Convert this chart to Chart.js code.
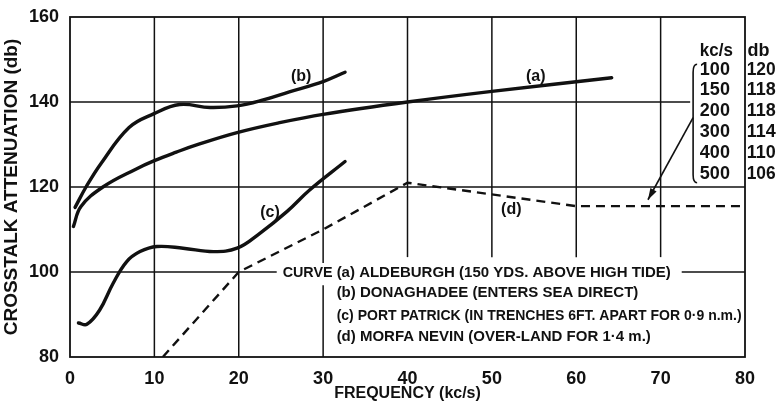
<!DOCTYPE html>
<html>
<head>
<meta charset="utf-8">
<script src="https://cdn.jsdelivr.net/npm/chart.js@4/dist/chart.umd.min.js"></script>
<style>body{margin:0;background:#fff}</style>
</head>
<body>
<canvas id="chartCanvas" width="777" height="407"></canvas>
<script>
// curve (a) Aldeburgh
var freqA = [0.4, 1.3, 3.9, 7.8, 10, 12.6, 15, 19.8, 25, 30, 40, 50, 64.2]
var attA = [110.7, 115.4, 120, 124.2, 126.2, 128.2, 129.9, 132.8, 135.2, 137.1, 140, 142.5, 145.7]
// curve (b) Donaghadee
var freqB = [0.6, 1.9, 3.7, 7, 9.9, 13, 16.6, 19.8, 22.9, 26, 30, 32.6]
var attB = [115.2, 120, 125.6, 134, 137.2, 139.4, 138.7, 139.1, 140.5, 142.4, 144.8, 147]
// curve (c) Port Patrick
var freqC = [1, 2, 3.5, 5.1, 6.7, 8.3, 10.3, 13.4, 17, 19.8, 22.5, 25.7, 28.4, 32.6]
var attC = [88, 87.7, 91, 97.3, 102.4, 104.8, 106, 105.6, 104.8, 105.6, 109.1, 114.2, 119.3, 126]
// curve (d) Morfa Nevin (dashed)
var freqD = [11, 20, 30, 40, 60, 80]
var attD = [80, 100, 110, 121, 115.5, 115.5]

var xTicks = [0, 10, 20, 30, 40, 50, 60, 70, 80]
var yTicks = [80, 100, 120, 140, 160]

var curveNames = ['(a)', '(b)', '(c)', '(d)']
var legendLines = [
  '(a) ALDEBURGH (150 YDS. ABOVE HIGH TIDE)',
  '(b) DONAGHADEE (ENTERS SEA DIRECT)',
  '(c) PORT PATRICK (IN TRENCHES 6FT. APART FOR 0·9 n.m.)',
  '(d) MORFA NEVIN (OVER-LAND FOR 1·4 m.)'
]
var tableFreq = ['100', '150', '200', '300', '400', '500']
var tableDb = ['120', '118', '118', '114', '110', '106']

var INK = '#111'
var FONT = '"Liberation Sans", Arial, sans-serif'

function pts(xs, ys) {
  return xs.map((x, i) => ({ x: x, y: ys[i] }))
}

function P(chart, x, y) {
  return [chart.scales.x.getPixelForValue(x), chart.scales.y.getPixelForValue(y)]
}

function seg(ctx, chart, x1, y1, x2, y2) {
  var a = P(chart, x1, y1), b = P(chart, x2, y2)
  ctx.beginPath()
  ctx.moveTo(a[0], a[1])
  ctx.lineTo(b[0], b[1])
  ctx.stroke()
}

// grid pieces, broken where the old drawing leaves room for lettering
var H_GRID = [[140, 0, 73.5], [120, 0, 80], [100, 0, 24.5], [100, 72.5, 80]]
var V_GRID = [[10, 80, 160], [20, 80, 160], [30, 102.1, 160], [30, 80, 96.9],
  [40, 103.5, 160], [50, 103.5, 160], [60, 103.5, 160], [70, 103.5, 160]]

var paperPlugin = {
  id: 'paper',
  beforeDatasetsDraw(chart) {
    var ctx = chart.ctx
    ctx.save()
    ctx.strokeStyle = INK
    ctx.lineWidth = 1.5
    H_GRID.forEach(g => seg(ctx, chart, g[1], g[0], g[2], g[0]))
    V_GRID.forEach(g => seg(ctx, chart, g[0], g[1], g[0], g[2]))
    // frame
    var tl = P(chart, 0, 160), br = P(chart, 80, 80)
    ctx.lineWidth = 1.8
    ctx.strokeRect(tl[0], tl[1], br[0] - tl[0], br[1] - tl[1])
    ctx.restore()
  },
  afterDatasetsDraw(chart) {
    var ctx = chart.ctx
    ctx.save()
    ctx.fillStyle = INK
    ctx.strokeStyle = INK
    ctx.textBaseline = 'middle'

    // curve names
    var nameX = [55.2, 27.4, 23.7, 52.3], nameY = [145.9, 146, 113.9, 114.6]
    ctx.font = 'bold 16px ' + FONT
    ctx.textAlign = 'center'
    curveNames.forEach((t, i) => {
      var p = P(chart, nameX[i], nameY[i])
      ctx.fillText(t, p[0], p[1], 21)
    })

    // key
    ctx.textAlign = 'left'
    ctx.font = 'bold 15px ' + FONT
    var c = P(chart, 25.2, 99.9)
    ctx.fillText('CURVE', c[0], c[1], 50)
    var rowY = [99.9, 95.2, 89.6, 84.8], rowW = [338, 323, 405, 323]
    legendLines.forEach((t, i) => {
      var p = P(chart, 31.6, rowY[i])
      ctx.fillText(t, p[0], p[1], rowW[i])
    })

    // small table of higher frequencies
    ctx.font = 'bold 18px ' + FONT
    var h = P(chart, 74.65, 152.1)
    ctx.fillText('kc/s', h[0], h[1], 33)
    var hd = P(chart, 80.3, 152.1)
    ctx.fillText('db', hd[0], hd[1], 28)
    tableFreq.forEach((t, i) => {
      var p = P(chart, 74.65, 147.6 - i * 4.9)
      ctx.fillText(t, p[0], p[1], 32)
      var q = P(chart, 80.2, 147.6 - i * 4.9)
      ctx.fillText(tableDb[i], q[0], q[1], 29)
    })

    // brace
    var top = P(chart, 73.85, 148.9), mid = P(chart, 73.85, 136.3), bot = P(chart, 73.85, 121)
    ctx.lineWidth = 1.6
    ctx.beginPath()
    ctx.moveTo(top[0] + 4, top[1])
    ctx.quadraticCurveTo(top[0], top[1], top[0], top[1] + 8)
    ctx.lineTo(mid[0], mid[1])
    ctx.lineTo(bot[0], bot[1] - 8)
    ctx.quadraticCurveTo(bot[0], bot[1], bot[0] + 4, bot[1])
    ctx.stroke()

    // arrow to curve (d)
    var tip = P(chart, 68.5, 117)
    seg(ctx, chart, 73.85, 136.3, 68.5, 117)
    var ang = Math.atan2(tip[1] - mid[1], tip[0] - mid[0])
    ctx.beginPath()
    ctx.moveTo(tip[0], tip[1])
    ctx.lineTo(tip[0] - 12 * Math.cos(ang - 0.3), tip[1] - 12 * Math.sin(ang - 0.3))
    ctx.lineTo(tip[0] - 12 * Math.cos(ang + 0.3), tip[1] - 12 * Math.sin(ang + 0.3))
    ctx.closePath()
    ctx.fill()
    ctx.restore()
  }
}

function solid(xs, ys) {
  return {
    data: pts(xs, ys),
    borderColor: INK,
    borderWidth: 3.4,
    pointRadius: 0,
    fill: false,
    tension: 0.4,
    borderCapStyle: 'round'
  }
}

var ctx = document.getElementById('chartCanvas')
new Chart(ctx, {
  type: 'line',
  data: {
    datasets: [
      solid(freqA, attA),
      solid(freqB, attB),
      solid(freqC, attC),
      {
        data: pts(freqD, attD),
        borderColor: INK,
        borderWidth: 2.4,
        borderDash: [9, 6],
        pointRadius: 0,
        fill: false,
        tension: 0
      }
    ]
  },
  options: {
    responsive: false,
    animation: false,
    layout: { padding: { top: 17, right: 32, left: 0, bottom: 0 } },
    plugins: { legend: { display: false }, tooltip: { enabled: false } },
    scales: {
      x: {
        type: 'linear',
        min: 0,
        max: 80,
        afterBuildTicks: s => { s.ticks = xTicks.map(v => ({ value: v })) },
        afterFit: s => { s.height = 50 },
        grid: { display: false },
        border: { display: false },
        ticks: { color: INK, font: { family: FONT, size: 18, weight: 'bold' }, padding: 3, maxRotation: 0 },
        title: { display: true, text: 'FREQUENCY (kc/s)', color: INK, font: { family: FONT, size: 16, weight: 'bold' }, padding: { top: 4 } }
      },
      y: {
        min: 80,
        max: 160,
        afterBuildTicks: s => { s.ticks = yTicks.map(v => ({ value: v })) },
        afterFit: s => { s.width = 70 },
        grid: { display: false },
        border: { display: false },
        ticks: { color: INK, font: { family: FONT, size: 18, weight: 'bold' }, padding: 3 },
        title: { display: true, text: 'CROSSTALK ATTENUATION (db)', color: INK, font: { family: FONT, size: 19, weight: 'bold' }, padding: 0 }
      }
    }
  },
  plugins: [paperPlugin]
})
</script>
</body>
</html>
